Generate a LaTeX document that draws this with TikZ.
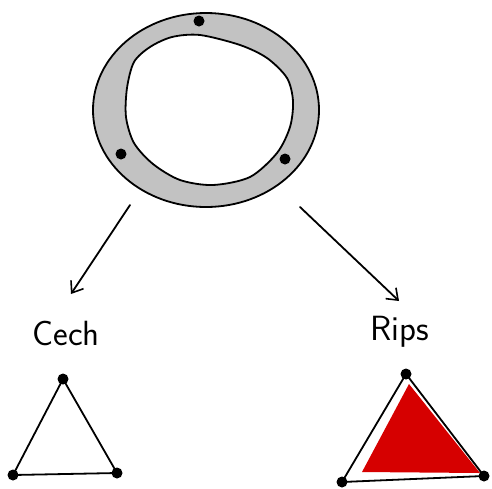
\documentclass[tikz,border=0pt]{standalone}
\usetikzlibrary{arrows.meta}
\definecolor{ringgray}{gray}{0.76}
\definecolor{ripsred}{RGB}{214,0,0}
\begin{document}
\begin{tikzpicture}[x=1pt,y=-1pt,line width=1.8pt,line join=round,line cap=round,
  dot/.style={circle,fill=black,inner sep=0pt,minimum size=11pt},
  sketcharrow/.style={-{Straight Barb[length=10pt,width=15pt,line width=1.6pt]}},
  label/.style={font=\sffamily\fontsize{35}{35}\selectfont,anchor=base}]
\useasboundingbox (0,0) rectangle (492,488);
% ring
\def\outerring{(206,110) ellipse [x radius=113, y radius=97]}
\def\innerring{plot[smooth cycle] coordinates {(134,62) (150,47) (172,37) (200,35) (240,45) (267,58) (287,78) (293,101) (290,127) (277,153) (250,177) (213,185) (180,180) (153,164) (134,143) (126,117) (127,88)}}
\fill[ringgray,even odd rule] \outerring \innerring;
\draw \outerring;
\draw \innerring;
\node[dot] (r1) at (199,21) {};
\node[dot] (r2) at (121,154) {};
\node[dot] (r3) at (285,159) {};
% arrows
\coordinate (la) at (130,205);
\coordinate (lb) at (71,294);
\coordinate (ra) at (300,207);
\coordinate (rb) at (399,301);
\draw[sketcharrow] (la) -- (lb);
\draw[sketcharrow] (ra) -- (rb);
% labels
\node[label] (cech) at (66,345) {Cech};
\node[label] (rips) at (400,340) {Rips};
% Cech triangle
\node[dot] (c1) at (63,379) {};
\node[dot] (c2) at (13,475) {};
\node[dot] (c3) at (117,473) {};
\draw (c1.center) -- (c2.center) -- (c3.center) -- cycle;
% Rips triangle
\fill[ripsred] (409,384) -- (362,472) -- (480,473) -- cycle;
\node[dot] (p1) at (406,374) {};
\node[dot] (p2) at (342,482) {};
\node[dot] (p3) at (484,476) {};
\draw (p1.center) -- (p2.center) -- (p3.center) -- cycle;
\end{tikzpicture}
\end{document}
